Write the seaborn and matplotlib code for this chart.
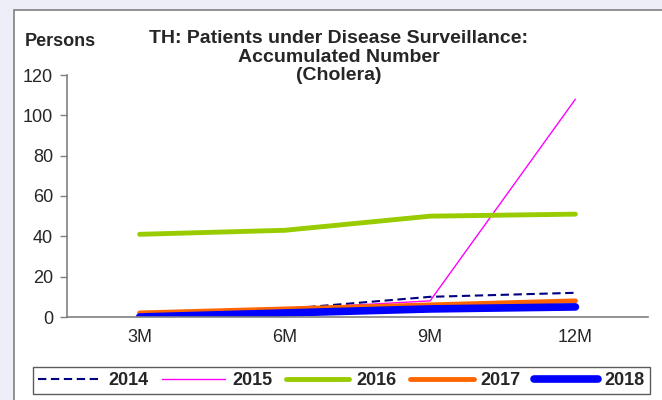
import matplotlib
matplotlib.use("Agg")
import matplotlib.pyplot as plt
from matplotlib.patches import Rectangle
import seaborn as sns
import pandas as pd

periods = ["3M", "6M", "9M", "12M"]
years = ["2014", "2015", "2016", "2017", "2018"]
y2014 = [1, 4, 10, 12]
y2015 = [2, 4, 8, 108]
y2016 = [41, 43, 50, 51]
y2017 = [2, 4, 6, 8]
y2018 = [0, 2, 4, 5]
yticks = [0, 20, 40, 60, 80, 100, 120]

series = dict(zip(years, [y2014, y2015, y2016, y2017, y2018]))
styles = {
    "2014": dict(color="#000080", lw=1.5, ls=(0, (4, 2.2))),
    "2015": dict(color="#FF00FF", lw=1.0, ls="-"),
    "2016": dict(color="#99CC00", lw=3.5, ls="-"),
    "2017": dict(color="#FF6600", lw=3.5, ls="-"),
    "2018": dict(color="#0000FF", lw=5.5, ls="-"),
}

sns.set_style("white")
plt.rcParams["font.family"] = ["Liberation Sans", "DejaVu Sans"]

fig = plt.figure(figsize=(6.62, 4.0), dpi=100)
fig.patch.set_facecolor("#EEEEF8")
# white chart panel with grey frame
fig.add_artist(Rectangle((14 / 662, -0.01), 1, 1 - 10 / 400 + 0.01, transform=fig.transFigure,
                         facecolor="white", edgecolor="#808080", lw=1.2, zorder=0))

ax = fig.add_axes([67 / 662, 1 - 317 / 400, (648 - 67) / 662, (317 - 75) / 400])
ax.set_facecolor("none")

for yr in years:
    df = pd.DataFrame({"x": range(len(periods)), "y": series[yr]})
    st = styles[yr]
    sns.lineplot(data=df, x="x", y="y", ax=ax, color=st["color"], linewidth=st["lw"],
                 linestyle=st["ls"], label=yr, legend=False, solid_capstyle="round")

ax.set_xlim(-0.5, len(periods) - 0.5)
ax.set_ylim(0, 120)
ax.set_yticks(yticks)
ax.set_yticklabels([str(v) for v in yticks], fontsize=13)
ax.set_xticks([i - 0.5 for i in range(len(periods) + 1)])
ax.set_xticklabels([])
ax.set_xticks(range(len(periods)), minor=True)
ax.set_xticklabels(periods, minor=True, fontsize=13)
ax.tick_params(axis="x", which="minor", length=0, pad=9)
ax.tick_params(axis="x", which="major", direction="out", length=5, color="#808080", width=1)
ax.tick_params(axis="y", direction="out", length=5, color="#808080", width=1, pad=5, left=True)
ax.set_xlabel("")
ax.set_ylabel("")
for s in ["top", "right"]:
    ax.spines[s].set_visible(False)
for s in ["left", "bottom"]:
    ax.spines[s].set_color("#808080")
    ax.spines[s].set_linewidth(1.2)

fig.text(338.5 / 662, 1 - 57 / 400, "TH: Patients under Disease Surveillance:\nAccumulated Number\n(Cholera)",
         ha="center", va="center", fontsize=14, fontweight="bold", linespacing=1.08)
fig.text(25 / 662, 1 - 42 / 400, "Persons", ha="left", va="center", fontsize=13, fontweight="bold")

leg = fig.legend(loc="center", bbox_to_anchor=(341.5 / 662, 1 - 380.5 / 400), ncol=5, frameon=True,
                 fancybox=False, edgecolor="#333333", handlelength=3.5, columnspacing=0.75,
                 handletextpad=0.4, borderpad=0.3, borderaxespad=0,
                 prop=dict(weight="bold", size=13))
leg.get_frame().set_linewidth(1.0)

fig.savefig("out.png", dpi=100, facecolor=fig.get_facecolor())
